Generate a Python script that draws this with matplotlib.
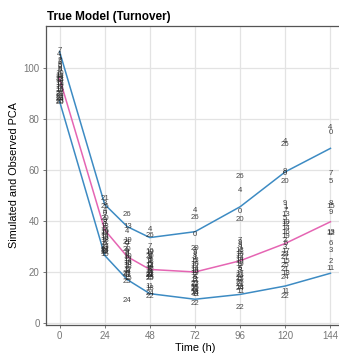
import matplotlib
matplotlib.use("Agg")
import matplotlib.pyplot as plt

plt.rcParams["font.family"] = ["Liberation Sans", "DejaVu Sans"]

# ---- model prediction bands (5th / median / 95th) ----
TIMES = [0, 24, 36, 48, 72, 96, 120, 144]
UPPER = [106.5, 46.5, 37.8, 33.5, 35.8, 45.6, 59.3, 68.5]
MEDIAN = [96.0, 36.5, 26.0, 21.0, 20.0, 24.4, 31.2, 39.7]
LOWER = [87.0, 26.5, 17.0, 11.5, 9.3, 11.2, 14.5, 19.5]

# ---- observed values, labelled by subject id ----
OBS_T0_ID = [7, 4, 1, 2, 3, 5, 6, 8, 9, 10, 11, 12, 13, 14, 15, 16, 17, 18, 19, 20, 21, 22, 23, 24, 25, 26, 27, 0]
OBS_T0 = [107, 105.5, 104, 103, 102, 101, 100.5, 99.5, 99, 98, 97, 96.5, 95.5, 95, 94, 93, 92.5, 91.5, 91, 90, 89.5, 89, 88, 87.5, 87, 86.5, 96, 93.5]

OBS_T24_ID = [21, 3, 26, 4, 0, 7, 20, 9, 8, 1, 13, 5, 10, 19, 12, 14, 16, 18, 2, 6, 17, 23, 27, 11, 22, 15, 24]
OBS_T24 = [48.9, 47.0, 45.5, 44.0, 43.0, 42.0, 41.0, 40.0, 39.5, 38.5, 38.0, 37.0, 36.0, 35.5, 35.0, 34.0, 33.0, 32.5, 32.0, 31.0, 30.0, 29.5, 29.0, 28.0, 27.5, 26.7, 28.5]

OBS_T36_ID = [26, 13, 4, 19, 21, 0, 7, 20, 9, 8, 1, 10, 5, 12, 14, 16, 18, 2, 6, 3, 17, 23, 27, 11, 15, 25, 24]
OBS_T36 = [42.4, 37.8, 35.8, 32.5, 31.5, 31.0, 30.0, 29.0, 28.0, 27.5, 27.0, 26.0, 25.5, 25.0, 24.0, 23.5, 22.5, 22.0, 21.0, 20.0, 20.5, 19.5, 19.0, 18.5, 17.5, 16.2, 9.0]

OBS_T48_ID = [4, 26, 7, 10, 19, 0, 20, 9, 8, 1, 13, 5, 12, 14, 16, 2, 6, 3, 17, 23, 27, 15, 25, 21, 11, 18, 22, 24]
OBS_T48 = [36.5, 34.5, 30.0, 28.2, 27.8, 26.7, 26.0, 25.5, 25.0, 24.5, 24.0, 23.0, 22.5, 22.0, 21.5, 21.0, 20.5, 20.0, 19.5, 19.0, 18.5, 18.0, 17.6, 18.8, 14.5, 13.7, 10.2, 11.5]

OBS_T72_ID = [4, 26, 0, 20, 7, 9, 8, 1, 13, 5, 10, 12, 14, 16, 19, 2, 6, 3, 17, 23, 27, 15, 25, 21, 18, 24, 11, 22]
OBS_T72 = [44.3, 41.3, 34.8, 29.3, 28.5, 27.5, 26.5, 25.5, 24.5, 24.0, 23.0, 22.0, 21.0, 20.0, 19.5, 18.5, 18.0, 17.0, 16.5, 15.5, 15.0, 14.0, 13.5, 13.0, 12.0, 11.5, 11.0, 7.7]

OBS_T96_ID = [26, 4, 0, 20, 7, 9, 8, 1, 13, 5, 10, 12, 14, 16, 19, 2, 6, 3, 17, 23, 27, 15, 25, 21, 18, 24, 11, 22]
OBS_T96 = [57.4, 51.8, 43.6, 40.7, 32.5, 31.4, 30.5, 29.5, 28.5, 27.5, 27.0, 26.0, 25.0, 24.0, 23.0, 22.0, 21.5, 20.5, 19.5, 18.5, 17.5, 17.0, 16.0, 15.0, 14.0, 13.5, 12.3, 5.9]

OBS_T120_ID = [4, 26, 8, 0, 20, 9, 1, 7, 13, 5, 10, 12, 14, 16, 19, 2, 6, 3, 17, 23, 27, 15, 25, 21, 18, 24, 11, 22]
OBS_T120 = [71.2, 70.0, 59.3, 58.5, 55.4, 47.0, 45.3, 44.3, 42.7, 41.0, 39.5, 38.5, 37.0, 35.5, 34.0, 32.5, 31.0, 29.5, 28.0, 27.0, 25.5, 24.0, 22.5, 21.0, 19.5, 18.0, 12.3, 10.3]

OBS_T144_ID = [4, 0, 7, 5, 8, 15, 9, 13, 12, 6, 3, 2, 11]
OBS_T144 = [76.8, 74.8, 58.7, 55.4, 47.0, 45.6, 43.4, 35.4, 35.0, 31.2, 28.6, 24.0, 21.2]

OBS = [
    (0, OBS_T0_ID, OBS_T0),
    (24, OBS_T24_ID, OBS_T24),
    (36, OBS_T36_ID, OBS_T36),
    (48, OBS_T48_ID, OBS_T48),
    (72, OBS_T72_ID, OBS_T72),
    (96, OBS_T96_ID, OBS_T96),
    (120, OBS_T120_ID, OBS_T120),
    (144, OBS_T144_ID, OBS_T144),
]

BLUE = "#3D8BC3"
PINK = "#E565B3"

fig = plt.figure(figsize=(3.39, 3.54), dpi=100)
ax = fig.add_axes([46 / 339, 29 / 354, 298 / 339, 299 / 354])

ax.set_xlim(-7.2, 151.2)
ax.set_ylim(-0.8, 116.5)
ax.set_xticks([0, 24, 48, 72, 96, 120, 144])
ax.set_yticks([0, 20, 40, 60, 80, 100])
ax.grid(True, color="#e3e3e3", lw=0.9)
ax.set_axisbelow(True)
for sp in ax.spines.values():
    sp.set_color("#555555")
    sp.set_linewidth(0.9)
ax.tick_params(colors="#777777", labelsize=7, length=2.5, width=0.7, pad=2)

for t, ids, vals in OBS:
    for i, v in zip(ids, vals):
        ax.text(t, v, str(i), fontsize=5.6, color="#262626", ha="center", va="center", alpha=0.85)

ax.plot(TIMES, UPPER, color=BLUE, lw=1.1)
ax.plot(TIMES, LOWER, color=BLUE, lw=1.1)
ax.plot(TIMES, MEDIAN, color=PINK, lw=1.1)

ax.set_xlabel("Time (h)", fontsize=7.8, labelpad=1)
ax.set_ylabel("Simulated and Observed PCA", fontsize=7.8, labelpad=3)
fig.text(47 / 339, 1 - 17 / 354, "True Model (Turnover)", fontsize=8.5, fontweight="bold", va="center", ha="left")

fig.savefig("out.png", dpi=100)
